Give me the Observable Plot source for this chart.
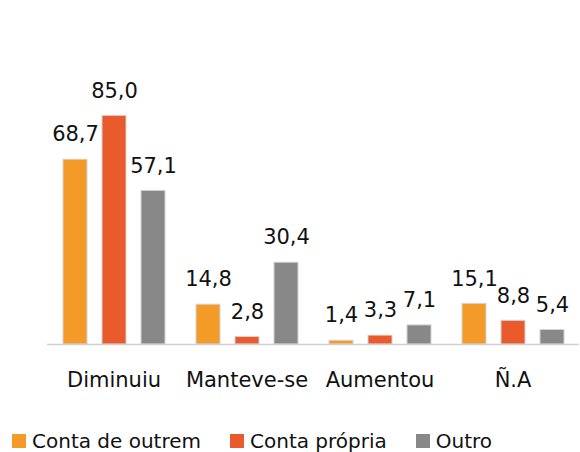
<!DOCTYPE html>
<html>
<head>
<meta charset="utf-8">
<script src="https://cdn.jsdelivr.net/npm/d3@7"></script>
<script src="https://cdn.jsdelivr.net/npm/@observablehq/plot@0.6"></script>
<style>
  body { margin: 0; background: #fff; font-family: "DejaVu Sans", Verdana, sans-serif; }
  #chart { width: 580px; }
  .legend { display: flex; align-items: center; height: 42px; padding-left: 12px; font-size: 20px; color: #111; }
  .legend .item { display: flex; align-items: center; margin-right: 29px; }
  .legend .sw { width: 14px; height: 14px; margin-right: 6px; }
</style>
</head>
<body>
<div id="chart"></div>
<script>
const categories = ["Diminuiu", "Manteve-se", "Aumentou", "Ñ.A"];
const seriesNames = ["Conta de outrem", "Conta própria", "Outro"];
const contaOutrem = [68.7, 14.8, 1.4, 15.1];
const contaPropria = [85.0, 2.8, 3.3, 8.8];
const outro = [57.1, 30.4, 7.1, 5.4];
const colors = ["#F39A28", "#E95B2C", "#888888"];

const seriesValues = [contaOutrem, contaPropria, outro];
const data = [];
categories.forEach((c, i) => {
  seriesNames.forEach((s, j) => {
    data.push({ category: c, series: s, value: seriesValues[j][i] });
  });
});
const fmt = v => v.toFixed(1).replace(".", ",");

const chart = Plot.plot({
  width: 580,
  height: 420,
  marginLeft: 45,
  marginRight: 0,
  marginTop: 75,
  marginBottom: 76,
  style: { fontFamily: "\"DejaVu Sans\", Verdana, sans-serif", fontSize: "21px", color: "#111", background: "#fff" },
  fx: { domain: categories, padding: 0, label: null, axis: "bottom", tickSize: 0, tickPadding: 28 },
  x: { domain: seriesNames, paddingInner: 0.39, paddingOuter: 0.37, axis: null },
  y: { domain: [0, 100], axis: null },
  color: { domain: seriesNames, range: colors },
  marks: [
    Plot.barY(data, { fx: "category", x: "series", y: "value", fill: "series", stroke: "#d4d4d4", strokeWidth: 1 }),
    Plot.ruleY([0], { stroke: "#d0d0d0", strokeWidth: 1.5 }),
    Plot.text(data, { fx: "category", x: "series", y: "value", text: d => fmt(d.value), dy: -25, fill: "#111", fontSize: 21 })
  ]
});
document.getElementById("chart").appendChild(chart);

const legend = document.createElement("div");
legend.className = "legend";
seriesNames.forEach((s, j) => {
  const item = document.createElement("div");
  item.className = "item";
  const sw = document.createElement("span");
  sw.className = "sw";
  sw.style.background = colors[j];
  const label = document.createElement("span");
  label.textContent = s;
  item.appendChild(sw);
  item.appendChild(label);
  legend.appendChild(item);
});
document.getElementById("chart").appendChild(legend);
</script>
</body>
</html>
